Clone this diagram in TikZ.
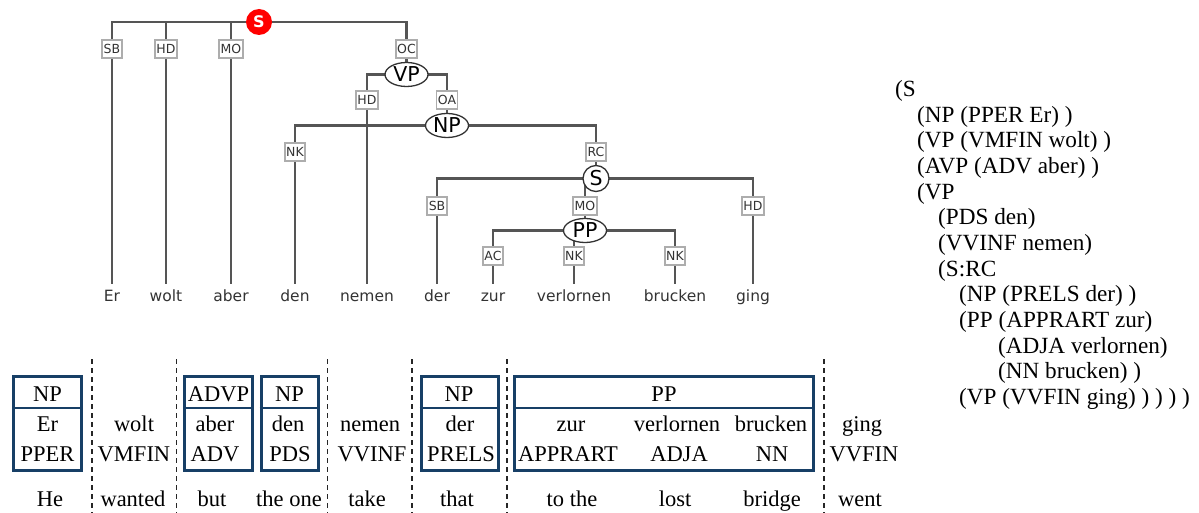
\documentclass[tikz,border=0pt]{standalone}
\usepackage{fontspec}
\setmainfont{Liberation Serif}
\newfontfamily\treefont{DejaVu Sans}
\usetikzlibrary{shapes.geometric,backgrounds}
\definecolor{treeline}{HTML}{555555}
\definecolor{lblgray}{HTML}{ADADAD}
\definecolor{navy}{HTML}{173F66}
\definecolor{txtgray}{HTML}{333333}
\definecolor{sred}{HTML}{FF0000}
\begin{document}
\begin{tikzpicture}[x=1pt,y=-1pt,
  word/.style={font=\treefont\fontsize{15.5}{16}\selectfont, text=txtgray, anchor=base, inner xsep=0pt, inner ysep=6.5pt, text height=11.5pt, text depth=0pt, outer sep=0pt},
  elabel/.style={draw=lblgray, line width=1.6pt, fill=white, font=\treefont\fontsize{12.5}{12.5}\selectfont, text=txtgray, inner xsep=1.5pt, inner ysep=0pt, minimum height=17.5pt, text height=9.1pt, text depth=0pt},
  cat/.style={ellipse, draw=txtgray, line width=1.3pt, fill=white, inner sep=0pt, minimum width=43pt, minimum height=24pt, font=\treefont\fontsize{20.5}{20.5}\selectfont, text=black},
  catc/.style={circle, draw=txtgray, line width=1.3pt, fill=white, inner sep=0pt, minimum size=26pt, font=\treefont\fontsize{20.5}{20.5}\selectfont, text=black},
  root/.style={circle, fill=sred, inner sep=0pt, minimum size=26pt, font=\treefont\bfseries\fontsize{16}{16}\selectfont, text=white},
  edge/.style={draw=treeline, line width=2.6pt},
  gtext/.style={font=\fontsize{22.5}{24}\selectfont, anchor=base, inner sep=0pt},
  btext/.style={font=\fontsize{23.2}{24}\selectfont, anchor=base west, inner sep=0pt},
  pbox/.style={draw=navy, line width=3pt, inner sep=0pt, minimum height=94pt},
  pdiv/.style={draw=navy, line width=1.8pt},
  sep/.style={draw=black!85, line width=1.4pt, dash pattern=on 5pt off 4pt}
]
\useasboundingbox (0,0) rectangle (1199,513);

% ---------- tree: phrase nodes ----------
\node[root] (S1) at (259,22) {S};
\node[cat] (VP) at (406.5,74.5) {VP};
\node[cat] (NP) at (447,125.5) {NP};
\node[catc] (S2) at (596,178.5) {S};
\node[cat] (PP) at (585,230.5) {PP};

% ---------- tree: edge labels ----------
\node[elabel] (lSB1) at (112,49) {SB};
\node[elabel] (lHD1) at (166,49) {HD};
\node[elabel] (lMO1) at (231,49) {MO};
\node[elabel] (lOC)  at (406.5,49) {OC};
\node[elabel] (lHD2) at (367,100) {HD};
\node[elabel] (lOA)  at (447,100) {OA};
\node[elabel] (lNK1) at (295,152) {NK};
\node[elabel] (lRC)  at (596,152) {RC};
\node[elabel] (lSB2) at (437,206) {SB};
\node[elabel] (lMO2) at (585,206) {MO};
\node[elabel] (lHD3) at (753,206) {HD};
\node[elabel] (lAC)  at (493,256) {AC};
\node[elabel] (lNK2) at (574,256) {NK};
\node[elabel] (lNK3) at (675,256) {NK};

% ---------- tree: words ----------
\node[word] (wEr)   at (112,301.5) {Er};
\node[word] (wwolt) at (166,301.5) {wolt};
\node[word] (waber) at (231,301.5) {aber};
\node[word] (wden)  at (295,301.5) {den};
\node[word] (wnem)  at (367,301.5) {nemen};
\node[word] (wder)  at (437,301.5) {der};
\node[word] (wzur)  at (493,301.5) {zur};
\node[word] (wver)  at (574,301.5) {verlornen};
\node[word] (wbru)  at (675,301.5) {brucken};
\node[word] (wging) at (753,301.5) {ging};

\begin{scope}[on background layer]
  \draw[edge] (S1.center) -| (lSB1.center) -- (wEr.north);
  \draw[edge] (S1.center) -| (lHD1.center) -- (wwolt.north);
  \draw[edge] (S1.center) -| (lMO1.center) -- (waber.north);
  \draw[edge] (S1.center) -| (lOC.center) -- (VP.center);
  \draw[edge] (VP.center) -| (lHD2.center) -- (wnem.north);
  \draw[edge] (VP.center) -| (lOA.center) -- (NP.center);
  \draw[edge] (NP.center) -| (lNK1.center) -- (wden.north);
  \draw[edge] (NP.center) -| (lRC.center) -- (S2.center);
  \draw[edge] (S2.center) -| (lSB2.center) -- (wder.north);
  \draw[edge] (S2.center) -| (lMO2.center) -- (PP.center);
  \draw[edge] (S2.center) -| (lHD3.center) -- (wging.north);
  \draw[edge] (PP.center) -| (lAC.center) -- (wzur.north);
  \draw[edge] (PP.center) -| (lNK2.center) -- (wver.north);
  \draw[edge] (PP.center) -| (lNK3.center) -- (wbru.north);
\end{scope}

% ---------- bracket notation ----------
\node[btext] (t0)  at (895,96.5)   {(S};
\node[btext] (t1)  at (917,122.2)  {(NP (PPER Er) )};
\node[btext] (t2)  at (917,147.8)  {(VP (VMFIN wolt) )};
\node[btext] (t3)  at (917,173.5)  {(AVP (ADV aber) )};
\node[btext] (t4)  at (917,199.2)  {(VP};
\node[btext] (t5)  at (938,224.8)  {(PDS den)};
\node[btext] (t6)  at (938,250.5)  {(VVINF nemen)};
\node[btext] (t7)  at (938,276.2)  {(S:RC};
\node[btext] (t8)  at (959,301.8)  {(NP (PRELS der) )};
\node[btext] (t9)  at (959,327.5)  {(PP (APPRART zur)};
\node[btext] (t10) at (998,353.2)  {(ADJA verlornen)};
\node[btext] (t11) at (998,378.8)  {(NN brucken) )};
\node[btext] (t12) at (959,404.5)  {(VP (VVFIN ging) ) ) ) )};

% ---------- bottom grid: separators ----------
\foreach \x in {92,176.5,327.5,412,507,824} \draw[sep] (\x,359) -- (\x,513);

% ---------- bottom grid: boxes ----------
\node[pbox, minimum width=68pt]  (bx1) at (47.5,423.5) {};
\node[pbox, minimum width=68pt]  (bx2) at (218.5,423.5) {};
\node[pbox, minimum width=57pt]  (bx3) at (289.5,423.5) {};
\node[pbox, minimum width=77pt]  (bx4) at (459.5,423.5) {};
\node[pbox, minimum width=299pt] (bx5) at (664,423.5) {};
\foreach \b in {bx1,bx2,bx3,bx4,bx5} \draw[pdiv] (\b.west |- 0,408) -- (\b.east |- 0,408);

% ---------- bottom grid: texts ----------
\node[gtext] (c1a) at (47.5,401) {NP};
\node[gtext] (c1b) at (47.5,431) {Er};
\node[gtext] (c1c) at (47.5,461) {PPER};
\node[gtext] (c1d) at (50,506) {He};

\node[gtext] (c2b) at (134,431) {wolt};
\node[gtext] (c2c) at (134,461) {VMFIN};
\node[gtext] (c2d) at (133,506) {wanted};

\node[gtext] (c3a) at (218.5,401) {ADVP};
\node[gtext] (c3b) at (215,431) {aber};
\node[gtext] (c3c) at (215,461) {ADV};
\node[gtext] (c3d) at (212,506) {but};

\node[gtext] (c4a) at (289.5,401) {NP};
\node[gtext] (c4b) at (288,431) {den};
\node[gtext] (c4c) at (290,461) {PDS};
\node[gtext] (c4d) at (289,506) {the one};

\node[gtext] (c5b) at (370,431) {nemen};
\node[gtext] (c5c) at (372,461) {VVINF};
\node[gtext] (c5d) at (367,506) {take};

\node[gtext] (c6a) at (459,401) {NP};
\node[gtext] (c6b) at (460,431) {der};
\node[gtext] (c6c) at (461,461) {PRELS};
\node[gtext] (c6d) at (457,506) {that};

\node[gtext] (c7a) at (664,401) {PP};
\node[gtext] (c7b) at (571,431) {zur};
\node[gtext] (c7c) at (568,461) {APPRART};
\node[gtext] (c7d) at (572,506) {to the};
\node[gtext] (c8b) at (677,431) {verlornen};
\node[gtext] (c8c) at (679,461) {ADJA};
\node[gtext] (c8d) at (675,506) {lost};
\node[gtext] (c9b) at (771,431) {brucken};
\node[gtext] (c9c) at (772,461) {NN};
\node[gtext] (c9d) at (772,506) {bridge};

\node[gtext] (c10b) at (862,431) {ging};
\node[gtext] (c10c) at (864,461) {VVFIN};
\node[gtext] (c10d) at (860,506) {went};
\end{tikzpicture}
\end{document}
